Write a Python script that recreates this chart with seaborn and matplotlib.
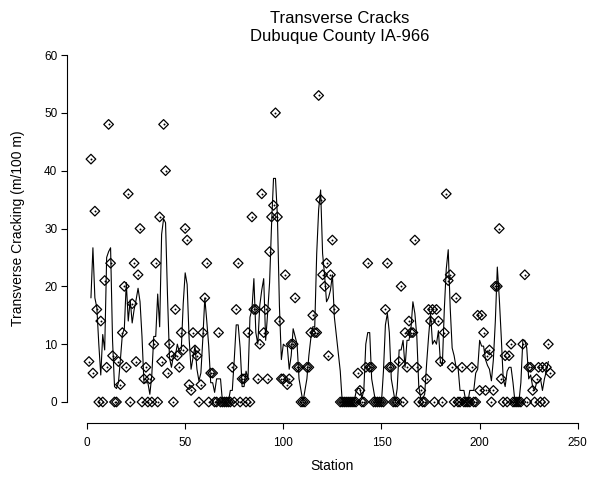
import numpy as np
import pandas as pd
import matplotlib
matplotlib.use("Agg")
import matplotlib.pyplot as plt
import seaborn as sns

# stations 127-128 have no readings
station = np.r_[1:127, 129:237]

crack_1_60 = [7, 42, 5, 33, 16, 0, 14, 0, 21, 6,
              48, 24, 8, 0, 0, 7, 3, 12, 20, 6,
              36, 0, 17, 24, 7, 22, 30, 0, 4, 6,
              0, 4, 0, 10, 24, 0, 32, 7, 48, 40,
              5, 10, 8, 0, 16, 8, 6, 12, 9, 30,
              28, 3, 2, 12, 9, 8, 0, 3, 12, 18]
crack_61_126 = [24, 0, 5, 5, 0, 0, 12, 0, 0, 0,
                0, 0, 0, 6, 0, 16, 24, 0, 4, 4,
                0, 12, 0, 32, 16, 16, 4, 10, 36, 12,
                16, 4, 26, 32, 34, 50, 32, 14, 4, 4,
                22, 3, 4, 10, 10, 18, 6, 6, 0, 0,
                0, 6, 6, 12, 15, 12, 12, 53, 35, 22,
                20, 24, 8, 22, 28, 16]
crack_129_180 = [0, 0, 0, 0, 0, 0, 0, 0, 0, 5, 2, 0,
                 0, 6, 24, 6, 6, 0, 0, 0, 0, 0,
                 0, 16, 24, 6, 6, 0, 0, 0, 7, 20,
                 0, 12, 6, 14, 12, 12, 28, 6, 0, 2,
                 0, 0, 4, 16, 14, 16, 0, 16, 14, 7]
crack_181_236 = [0, 12, 36, 21, 22, 6, 0, 18, 0, 0,
                 6, 0, 0, 0, 0, 6, 0, 0, 15, 2,
                 15, 12, 2, 8, 9, 0, 2, 20, 20, 30,
                 4, 0, 8, 0, 8, 10, 0, 0, 0, 0,
                 0, 10, 22, 0, 6, 6, 2, 0, 4, 6,
                 0, 6, 0, 6, 10, 5]

cracks = crack_1_60 + crack_61_126 + crack_129_180 + crack_181_236

df = pd.DataFrame({"station": station, "crack": cracks})
df["avg"] = df["crack"].rolling(3, center=True).mean()

sns.set_style("ticks")
plt.rcParams["font.family"] = ["Liberation Sans", "DejaVu Sans"]
plt.rcParams["text.color"] = "black"
plt.rcParams["axes.labelcolor"] = "black"
plt.rcParams["xtick.color"] = "black"
plt.rcParams["ytick.color"] = "black"

fig = plt.figure(figsize=(5.92, 4.8), dpi=100)
ax = fig.add_axes([0.147, 0.1625, 0.829, 0.7229])

sns.lineplot(data=df.dropna(), x="station", y="avg", color="black",
             lw=0.8, estimator=None, sort=False, ax=ax, clip_on=False)
sns.scatterplot(data=df, x="station", y="crack", marker="D", s=24,
                facecolor="none", edgecolor="black", linewidth=0.9,
                ax=ax, clip_on=False, zorder=3)
sns.scatterplot(data=df, x="station", y="crack", marker="o", s=2,
                color="black", linewidth=0, ax=ax, clip_on=False, zorder=4)

ax.set_xlim(0, 250)
ax.set_ylim(0, 60)
ax.set_xticks([0, 50, 100, 150, 200, 250])
ax.set_yticks([0, 10, 20, 30, 40, 50, 60])
ax.tick_params(axis="both", labelsize=8.5, length=4, width=0.8, color="black",
               labelcolor="black")
ax.tick_params(axis="x", pad=6)
ax.tick_params(axis="y", pad=3)

sns.despine(ax=ax, offset={"left": 14.4, "bottom": 15.3})
for side in ["left", "bottom"]:
    ax.spines[side].set_linewidth(0.8)
    ax.spines[side].set_color("black")

ax.set_xlabel("Station", fontsize=10, color="black")
ax.set_ylabel("Transverse Cracking (m/100 m)", fontsize=10, color="black")
ax.xaxis.set_label_coords(0.5, -0.164)
ax.yaxis.set_label_coords(-0.126, 0.5)

fig.text(0.574, 0.962, "Transverse Cracks", ha="center", va="center",
         fontsize=12, color="black")
fig.text(0.574, 0.923, "Dubuque County IA-966", ha="center", va="center",
         fontsize=12, color="black")

fig.savefig("out.png", dpi=100)
